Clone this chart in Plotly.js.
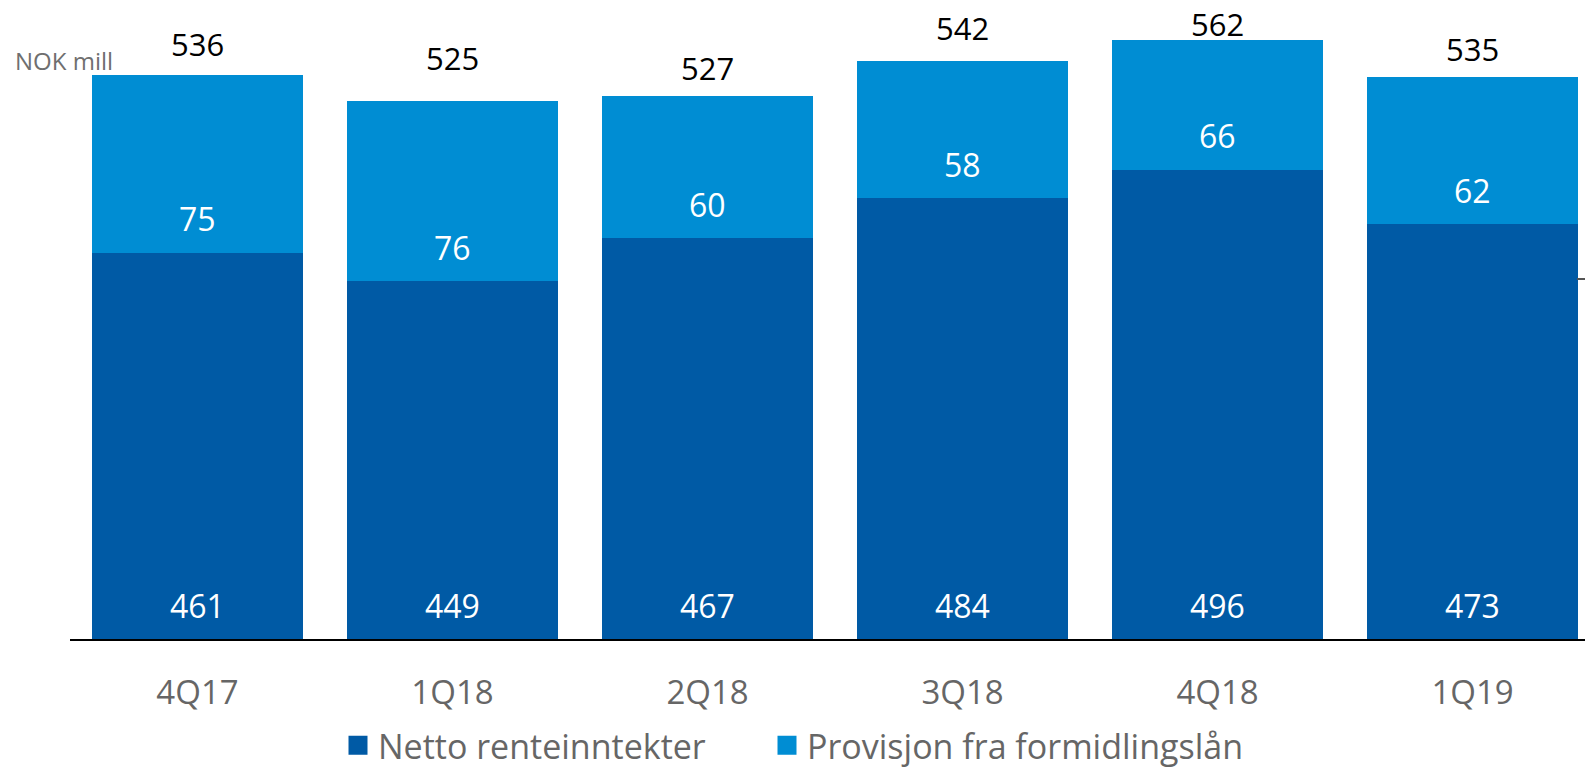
<!DOCTYPE html>
<html>
<head>
<meta charset="utf-8">
<script src="https://cdn.plot.ly/plotly-3.0.1.min.js"></script>
<style>
  html, body { margin: 0; padding: 0; background: #ffffff; }
  #chart { width: 1585px; height: 769px; }
</style>
</head>
<body>
<div id="chart"></div>
<script>
// Quarterly income, NOK mill
const quarters = ['4Q17', '1Q18', '2Q18', '3Q18', '4Q18', '1Q19'];
const nettoRenteinntekter = [461, 449, 467, 484, 496, 473];
const provisjonFormidlingslan = [75, 76, 60, 58, 66, 62];
const totals = [536, 525, 527, 542, 562, 535];

const seriesNames = ['Netto renteinntekter', 'Provisjon fra formidlingslån'];
const colorDark = '#005AA5';
const colorLight = '#008DD3';
const fontFamily = '"Open Sans", "Noto Sans", sans-serif';

// Value axis is cut well above zero (the tallest bar runs past the top)
const yRange = [297.8, 550.8];

// Vertical lift (px) of each total label above its bar top (or the plot top if clipped)
const totalLift = [31, 43, 28, 33, 16, 28];
// Inside labels sit a fixed distance above the base of their segment
const insideLift = 34;

const traces = [
  {
    type: 'bar', name: seriesNames[0], x: quarters, y: nettoRenteinntekter,
    marker: { color: colorDark, line: { width: 0 } },
    showlegend: false, hoverinfo: 'skip'
  },
  {
    type: 'bar', name: seriesNames[1], x: quarters, y: provisjonFormidlingslan,
    marker: { color: colorLight, line: { width: 0 } },
    showlegend: false, hoverinfo: 'skip'
  },
  // legend entries, one legend each so their spacing can be set
  {
    type: 'scatter', mode: 'markers', name: seriesNames[0], x: [null], y: [null],
    marker: { symbol: 'square', size: 16, color: colorDark, line: { width: 3, color: colorDark } },
    legend: 'legend'
  },
  {
    type: 'scatter', mode: 'markers', name: seriesNames[1], x: [null], y: [null],
    marker: { symbol: 'square', size: 16, color: colorLight, line: { width: 3, color: colorLight } },
    legend: 'legend2'
  }
];

const annotations = [];
quarters.forEach((q, i) => {
  annotations.push({
    x: q, y: yRange[0], xref: 'x', yref: 'y', yanchor: 'middle', yshift: insideLift,
    text: String(nettoRenteinntekter[i]), showarrow: false,
    font: { family: fontFamily, size: 32, color: '#ffffff' }
  });
  annotations.push({
    x: q, y: nettoRenteinntekter[i], xref: 'x', yref: 'y', yanchor: 'middle', yshift: insideLift,
    text: String(provisjonFormidlingslan[i]), showarrow: false,
    font: { family: fontFamily, size: 32, color: '#ffffff' }
  });
  annotations.push({
    x: q, y: Math.min(totals[i], yRange[1]), xref: 'x', yref: 'y', yanchor: 'middle',
    yshift: totalLift[i],
    text: String(totals[i]), showarrow: false,
    font: { family: fontFamily, size: 31, color: '#000000' }
  });
});
annotations.push({
  x: -0.0376, y: 0.966, xref: 'paper', yref: 'paper', xanchor: 'left', yanchor: 'middle',
  text: 'NOK mill', showarrow: false,
  font: { family: fontFamily, size: 24, color: '#6f6f6f' }
});

const legendBase = {
  orientation: 'h', xref: 'container', yref: 'container',
  xanchor: 'left', y: 0.068, yanchor: 'top',
  bgcolor: 'rgba(0,0,0,0)', borderwidth: 0,
  font: { family: fontFamily, size: 34, color: '#666666' },
  itemclick: false, itemdoubleclick: false
};

const layout = {
  width: 1585, height: 769,
  margin: { l: 70, r: 0, t: 40, b: 130, pad: 0 },
  paper_bgcolor: '#ffffff', plot_bgcolor: '#ffffff',
  barmode: 'stack', bargap: 0.1725,
  font: { family: fontFamily },
  xaxis: {
    range: [-0.5, 5.441], fixedrange: true,
    showline: true, linecolor: '#000000', linewidth: 2,
    showgrid: false, zeroline: false, ticks: '',
    ticklabelstandoff: 23,
    tickfont: { family: fontFamily, size: 33, color: '#666666' }
  },
  yaxis: {
    range: yRange, fixedrange: true, side: 'right',
    showgrid: false, zeroline: false, showline: false,
    showticklabels: false, ticks: 'inside', ticklen: 8, tickwidth: 2, tickcolor: '#555555',
    tickvals: [yRange[0], 450]
  },
  showlegend: true,
  legend: Object.assign({}, legendBase, { x: 338 / 1585 }),
  legend2: Object.assign({}, legendBase, { x: 767 / 1585 }),
  annotations: annotations
};

Plotly.newPlot('chart', traces, layout, { displayModeBar: false, staticPlot: true });
</script>
</body>
</html>
